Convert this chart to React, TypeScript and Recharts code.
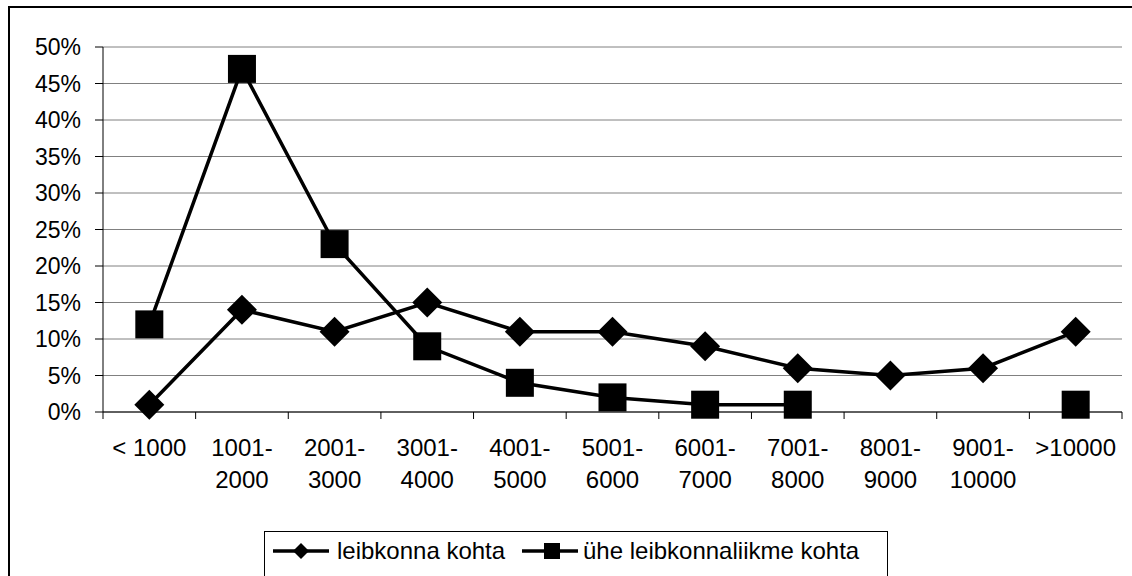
import { CartesianGrid, Legend, Line, LineChart, XAxis, YAxis } from "recharts";

const categories = [
  "< 1000",
  "1001-2000",
  "2001-3000",
  "3001-4000",
  "4001-5000",
  "5001-6000",
  "6001-7000",
  "7001-8000",
  "8001-9000",
  "9001-10000",
  ">10000",
];
const perHousehold = [1, 14, 11, 15, 11, 11, 9, 6, 5, 6, 11];
const perMember: (number | null)[] = [12, 47, 23, 9, 4, 2, 1, 1, null, null, 1];
const yTicks = [0, 5, 10, 15, 20, 25, 30, 35, 40, 45, 50];
const xEdges = categories.map((_, i) => i).concat(categories.length);

const seriesNames = ["leibkonna kohta", "ühe leibkonnaliikme kohta"];

const data = categories.map((name, i) => ({
  pos: i + 0.5,
  name,
  household: perHousehold[i],
  member: perMember[i],
}));

const W = 1132;
const H = 576;
const Y_AXIS_W = 103;
const RIGHT = 10;
const PLOT_W = W - Y_AXIS_W - RIGHT;
const FONT = '"Liberation Sans", Arial, sans-serif';

function CategoryTick(props: any) {
  const { x, y, payload } = props;
  const label = categories[payload.value];
  if (label === undefined) return <g />;
  const cx = x + PLOT_W / categories.length / 2;
  const cut = label.indexOf("-");
  const lines = cut > 0 ? [label.slice(0, cut + 1), label.slice(cut + 1)] : [label];
  return (
    <text textAnchor="middle" fontSize={24} fontFamily={FONT} fill="#000">
      {lines.map((t, i) => (
        <tspan key={i} x={cx} y={y + 37 + i * 32}>
          {t}
        </tspan>
      ))}
    </text>
  );
}

function Diamond(props: any) {
  const { cx, cy } = props;
  if (cx == null || cy == null || props.value == null) return <g />;
  const r = 15;
  return (
    <polygon
      points={`${cx},${cy - r} ${cx + r},${cy} ${cx},${cy + r} ${cx - r},${cy}`}
      fill="#000"
    />
  );
}

function Square(props: any) {
  const { cx, cy } = props;
  if (cx == null || cy == null || props.value == null) return <g />;
  const s = 28;
  return <rect x={cx - s / 2} y={cy - s / 2} width={s} height={s} fill="#000" />;
}

function LegendBox() {
  return (
    <svg width={624} height={50} style={{ display: "block" }}>
      <rect x={0.5} y={0.5} width={623} height={80} fill="#fff" stroke="#000" />
      <line x1={9} y1={20} x2={65} y2={20} stroke="#000" strokeWidth={3.5} />
      <polygon points="37,12 45,20 37,28 29,20" fill="#000" />
      <text x={73} y={28} fontSize={24} fontFamily={FONT} fill="#000">
        {seriesNames[0]}
      </text>
      <line x1={258} y1={20} x2={314} y2={20} stroke="#000" strokeWidth={3.5} />
      <rect x={280} y={12} width={16} height={16} fill="#000" />
      <text x={319} y={28} fontSize={24} fontFamily={FONT} fill="#000">
        {seriesNames[1]}
      </text>
    </svg>
  );
}

export default function App() {
  return (
    <div
      style={{
        position: "absolute",
        left: 0,
        top: 0,
        width: W,
        height: H,
        overflow: "hidden",
        background: "#fff",
      }}
    >
      <div
        style={{
          position: "absolute",
          left: 8,
          top: 6,
          width: 1200,
          height: 700,
          border: "2px solid #000",
        }}
      />
      <div style={{ position: "absolute", left: 0, top: 0 }}>
        <LineChart
          width={W}
          height={H}
          data={data}
          margin={{ top: 47, right: RIGHT, bottom: 0, left: 0 }}
        >
          <CartesianGrid stroke="#808080" vertical={false} />
          <XAxis
            dataKey="pos"
            type="number"
            domain={[0, categories.length]}
            ticks={xEdges}
            interval={0}
            tickSize={7}
            tickMargin={0}
            height={H - 412}
            axisLine={{ stroke: "#000" }}
            tickLine={{ stroke: "#000" }}
            tick={<CategoryTick />}
          />
          <YAxis
            type="number"
            domain={[0, 50]}
            ticks={yTicks}
            interval={0}
            width={Y_AXIS_W}
            tickSize={8}
            tickMargin={14}
            tickFormatter={(v) => `${v}%`}
            axisLine={{ stroke: "#000" }}
            tickLine={{ stroke: "#000" }}
            tick={{ fontSize: 23, fontFamily: FONT, fill: "#000" }}
          />
          <YAxis
            yAxisId="frame"
            orientation="right"
            domain={[0, 50]}
            width={0}
            tick={false}
            tickLine={false}
            axisLine={{ stroke: "#808080" }}
          />
          <Line
            dataKey="household"
            name={seriesNames[0]}
            stroke="#000"
            strokeWidth={3.5}
            dot={<Diamond />}
            activeDot={false}
            isAnimationActive={false}
          />
          <Line
            dataKey="member"
            name={seriesNames[1]}
            stroke="#000"
            strokeWidth={3.5}
            dot={<Square />}
            activeDot={false}
            connectNulls={false}
            isAnimationActive={false}
          />
          <Legend
            verticalAlign="middle"
            layout="horizontal"
            content={<LegendBox />}
            wrapperStyle={{ left: 264, top: 531, width: 624, height: 50 }}
          />
        </LineChart>
      </div>
    </div>
  );
}
